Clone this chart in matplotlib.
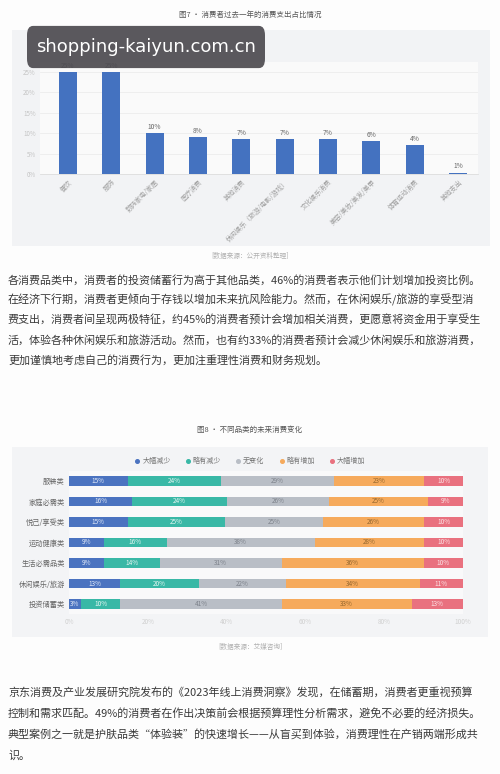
import matplotlib
matplotlib.use('Agg')
import matplotlib.pyplot as plt
from matplotlib.patches import FancyBboxPatch, Rectangle
from matplotlib.lines import Line2D
import numpy as np

plt.rcParams['font.family'] = ['Noto Sans CJK SC', 'DejaVu Sans']

# 图7 数据
cats7 = ['餐饮', '服饰', '数码家电/家居', '医疗消费', '其他消费', '休闲娱乐（旅游/电影/游戏）',
         '文化娱乐消费', '美容/美妆/美发/美甲', '体育运动消费', '其他支出']
vals7 = [25, 25, 10, 9, 8.5, 8.5, 8.5, 8, 7, 0.3]
labs7 = ['25%', '25%', '10%', '8%', '7%', '7%', '7%', '6%', '4%', '1%']
yticks7 = [0, 5, 10, 15, 20, 25]

# 图8 数据
cats8 = ['服装类', '家庭必需类', '悦己/享受类', '运动健康类', '生活必需品类', '休闲娱乐/旅游', '投资储蓄类']
series8 = ['大幅减少', '略有减少', '无变化', '略有增加', '大幅增加']
big_down = [15, 16, 15, 9, 9, 13, 3]
small_down = [24, 24, 25, 16, 14, 20, 10]
no_change = [29, 26, 25, 38, 31, 22, 41]
small_up = [23, 25, 26, 28, 36, 34, 33]
big_up = [10, 9, 10, 10, 10, 11, 13]
colors8 = ['#4b73c0', '#39b8a6', '#b9bec6', '#f6aa5c', '#e9717f']
txtcol8 = ['#e4ebf8', '#e6f6f2', '#7d828b', '#94672f', '#fbe3e5']

para1 = ['各消费品类中，消费者的投资储蓄行为高于其他品类，46%的消费者表示他们计划增加投资比例。',
         '在经济下行期，消费者更倾向于存钱以增加未来抗风险能力。然而，在休闲娱乐/旅游的享受型消',
         '费支出，消费者间呈现两极特征，约45%的消费者预计会增加相关消费，更愿意将资金用于享受生',
         '活，体验各种休闲娱乐和旅游活动。然而，也有约33%的消费者预计会减少休闲娱乐和旅游消费，',
         '更加谨慎地考虑自己的消费行为，更加注重理性消费和财务规划。']
para2 = ['京东消费及产业发展研究院发布的《2023年线上消费洞察》发现，在储蓄期，消费者更重视预算',
         '控制和需求匹配。49%的消费者在作出决策前会根据预算理性分析需求，避免不必要的经济损失。',
         '典型案例之一就是护肤品类“体验装”的快速增长——从盲买到体验，消费理性在产销两端形成共',
         '识。']

W, H = 500, 774
fig = plt.figure(figsize=(W / 100, H / 100), dpi=100)
fig.patch.set_facecolor('#fdfdfd')


def fx(x):
    return x / W


def fy(y):
    return 1 - y / H


# ---------- 图7 ----------
fig.text(0.5, fy(15), '图7 · 消费者过去一年的消费支出占比情况', ha='center', va='center',
         fontsize=5.4, color='#555555')
fig.patches.append(Rectangle((fx(12), fy(246)), fx(478), 216 / H, transform=fig.transFigure,
                             facecolor='#f2f3f5', edgecolor='none', zorder=-5))

ax1 = fig.add_axes([fx(40), fy(174), fx(438), 112 / H])
ax1.set_facecolor('#fafafa')
x = np.arange(len(cats7))
ax1.bar(x, vals7, width=0.42, color='#4472c0', zorder=3)
for i, v in enumerate(vals7):
    ax1.text(i, v + 0.6, labs7[i], ha='center', va='bottom', fontsize=4.8, color='#666666')
ax1.set_xlim(-0.646, 9.46)
ax1.set_ylim(0, 27.45)
ax1.set_yticks(yticks7)
ax1.set_yticklabels([f'{t}%' for t in yticks7], fontsize=4.5, color='#c4c4c4')
ax1.grid(axis='y', color='#ececec', linewidth=0.6, zorder=0)
ax1.set_xticks(x)
ax1.set_xticklabels(cats7, rotation=45, ha='right', rotation_mode='anchor', fontsize=4.8,
                    color='#a0a0a0')
ax1.tick_params(length=0, pad=3)
for s in ['top', 'right', 'left']:
    ax1.spines[s].set_visible(False)
ax1.spines['bottom'].set_color('#dddddd')
ax1.spines['bottom'].set_linewidth(0.6)

fig.text(0.5, fy(256), '[数据来源：公开资料整理]', ha='center', va='center', fontsize=4.8,
         color='#b0b0b0')

# 水印
fig.patches.append(FancyBboxPatch((fx(29), fy(65)), fx(234), 36 / H, transform=fig.transFigure,
                                  boxstyle='round,pad=0.004,rounding_size=0.012',
                                  facecolor='#4d4b50', edgecolor='none', alpha=0.92, zorder=10))
fig.text(fx(146), fy(47), 'shopping-kaiyun.com.cn', ha='center', va='center', fontsize=13,
         color='white', family='DejaVu Sans', zorder=11)

# ---------- 段落1 ----------
for i, line in enumerate(para1):
    fig.text(fx(8), fy(280 + 20 * i), line, ha='left', va='center', fontsize=7.95, color='#3a3a3a')

# ---------- 图8 ----------
fig.text(0.5, fy(430), '图8 · 不同品类的未来消费变化', ha='center', va='center', fontsize=5.4,
         color='#555555')
fig.patches.append(Rectangle((fx(12), fy(637)), fx(476), 190 / H, transform=fig.transFigure,
                             facecolor='#f3f4f6', edgecolor='none', zorder=-5))

ax2 = fig.add_axes([fx(69), fy(614.25), fx(394), 143.5 / H])
ax2.set_facecolor('#f9f9fa')
data8 = np.array([big_down, small_down, no_change, small_up, big_up], dtype=float)
data8 = data8 / data8.sum(axis=0) * 100
y = np.arange(len(cats8))
left = np.zeros(len(cats8))
raw8 = [big_down, small_down, no_change, small_up, big_up]
for k in range(5):
    ax2.barh(y, data8[k], left=left, height=0.44, color=colors8[k], zorder=3)
    for i in range(len(cats8)):
        ax2.text(left[i] + data8[k][i] / 2, y[i], f'{raw8[k][i]}%', ha='center', va='center',
                 fontsize=4.6, color=txtcol8[k], zorder=4)
    left += data8[k]
ax2.set_xlim(0, 100)
ax2.set_ylim(6.5, -0.5)
ax2.set_yticks(y)
ax2.set_yticklabels(cats8, fontsize=5.2, color='#666666')
ax2.set_xticks([0, 20, 40, 60, 80, 100])
ax2.set_xticklabels(['0%', '20%', '40%', '60%', '80%', '100%'], fontsize=4.6, color='#d0d0d0')
ax2.tick_params(length=0, pad=3)
for s in ax2.spines.values():
    s.set_visible(False)

handles = [Line2D([], [], marker='o', linestyle='none', markersize=2.6, color=c) for c in colors8]
fig.legend(handles, series8, loc='center', bbox_to_anchor=(fx(250), fy(461)), ncol=5,
           frameon=False, fontsize=5.1, labelcolor='#777777', handletextpad=0.3,
           columnspacing=2.0, handlelength=0.8)

fig.text(0.5, fy(647), '[数据来源：艾媒咨询]', ha='center', va='center', fontsize=4.8,
         color='#b0b0b0')

# ---------- 段落2 ----------
for i, line in enumerate(para2):
    fig.text(fx(8), fy(692 + 21.3 * i), line, ha='left', va='center', fontsize=7.95, color='#3a3a3a')

fig.savefig('out.png', dpi=100, facecolor=fig.get_facecolor())
